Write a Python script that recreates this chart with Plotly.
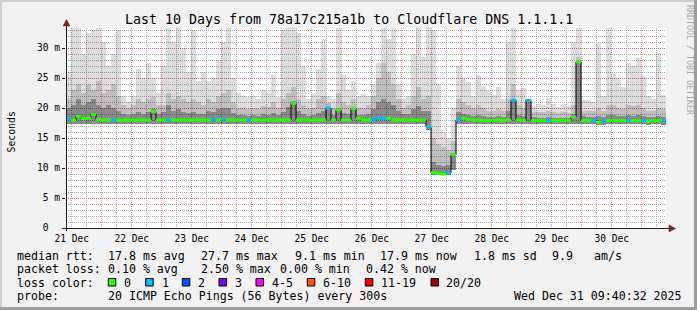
import plotly.graph_objects as go
from datetime import datetime, timedelta

# ---------------- data (2-hour bins) ----------------
START = datetime(2025, 12, 21, 9, 40, 32)
END = datetime(2025, 12, 31, 9, 40, 32)
BIN = timedelta(hours=2)

# top of the light smoke (max ping), ms
rtt_max = [
    26, 33.3, 33.3, 29, 32.5, 33, 33.3, 31, 27, 29, 33, 22,
    21, 22, 26.5, 25, 27.5, 25, 22.5, 27, 33.3, 31, 33.3, 30,
    26, 33, 24.5, 26, 24.5, 25, 28, 31, 33.3, 25, 22.5, 22,
    21.8, 22, 21.5, 23, 22.5, 25.5, 21.8, 33, 33.3, 33.3, 32.5, 27,
    21.5, 22.3, 26.5, 31.5, 22, 21.5, 33.3, 25.5, 23, 24.5, 22, 22.3,
    22, 24, 27.5, 33.3, 31.5, 33.3, 24, 21.5, 22, 29, 33.3, 28.5,
    33.3, 33, 24, 16, 15, 20, 27, 25, 24.4, 22, 25.5, 23.6,
    22.8, 22.2, 23.5, 21.5, 31, 33.3, 23, 23.3, 21.3, 20.2, 20.7, 20.5,
    21.7, 20.7, 20.2, 20.7, 20.3, 31, 33.3, 21.3, 21.3, 21, 30.8, 22,
    33.3, 25.6, 25, 23.5, 27.5, 27, 28.3, 25.3, 22, 21.5, 29.2, 22.2,
]
# top of the medium smoke
rtt_mid = [
    21.5, 23, 24, 22.5, 24, 23, 24.5, 22.5, 23, 24, 22, 20.5,
    20, 20.5, 21.5, 21, 21.5, 21.8, 20.5, 20.5, 22.5, 21.5, 22, 21.5,
    21, 21.5, 21, 20.5, 21.5, 21, 22, 22.5, 23, 21, 20, 20,
    19.8, 20, 19.8, 20.3, 20.2, 21, 20, 21.5, 22.5, 23.5, 21.5, 20.5,
    19.8, 20, 21.5, 22, 20.8, 20, 22.5, 21, 20.5, 21.5, 20, 20,
    20.5, 22, 25, 27.5, 26, 24, 21.5, 20, 20.5, 22, 23.5, 21.5,
    22, 15, 14, 13.5, 13, 14.5, 21.5, 21, 20.5, 20, 20.5, 20,
    19.5, 19.5, 19.8, 19.5, 21.5, 24, 20.5, 20, 21.5, 19.3, 19.3, 19.3,
    19.5, 19.3, 19.2, 19.3, 19.2, 20.5, 28.5, 19.5, 19.5, 19.5, 20, 19.5,
    20.5, 20.5, 20, 19.8, 20.5, 20.3, 20.5, 20, 19.5, 19.5, 20, 19.8,
]
# top of the dark smoke
rtt_dark = [
    20, 20.5, 21.5, 20.5, 21, 21.5, 20.5, 20, 20.5, 20, 19.5, 19,
    18.8, 19, 19.3, 19, 19.3, 19.8, 19, 19.3, 20.5, 19.5, 19.8, 19.3,
    19.2, 19.3, 19, 19, 19.5, 19.3, 19.8, 20, 20, 19.2, 18.8, 18.8,
    18.7, 18.8, 18.7, 19, 18.9, 19.2, 18.8, 19.3, 20.2, 21.2, 19.5, 19,
    18.7, 18.8, 19.2, 19.5, 20.2, 18.8, 20, 19.2, 19, 20.2, 18.8, 18.8,
    19, 19.8, 21, 21.5, 21, 20.5, 19.5, 19, 19, 19.8, 20.3, 19.5,
    19.5, 11, 10.5, 10.3, 10.5, 12.5, 19.3, 19, 18.8, 18.7, 18.8, 18.6,
    18.5, 18.5, 18.6, 18.5, 19.5, 21.5, 18.8, 18.7, 21.3, 18.5, 18.4, 18.4,
    18.5, 18.4, 18.4, 18.4, 18.4, 19, 27.7, 18.6, 18.5, 18.5, 18.6, 18.5,
    18.8, 18.8, 18.7, 18.6, 18.8, 18.7, 18.8, 18.7, 18.5, 18.5, 18.6, 18.5,
]
# bottom of the smoke (min ping)
rtt_min = [
    17.4, 17.4, 17.4, 17.4, 17.4, 17.4, 17.4, 17.4, 17.4, 17.3, 17.4, 17.4,
    17.4, 17.4, 17.4, 17.4, 17.4, 17.4, 17.4, 17.4, 17.3, 17.4, 17.4, 17.4,
    17.4, 17.4, 17.4, 17.4, 17.4, 17.4, 17.4, 17.4, 17.4, 17.4, 17.4, 17.4,
    17.3, 17.4, 17.4, 17.4, 17.4, 17.4, 17.4, 17.4, 17.4, 17.4, 17.4, 17.4,
    17.4, 17.4, 17.4, 17.4, 17.4, 17.4, 17.4, 17.4, 17.4, 17.4, 17.4, 17.4,
    17.4, 17.4, 17.4, 17.4, 17.4, 17.4, 17.4, 17.4, 17.4, 17.4, 17.4, 17.4,
    16.4, 8.8, 8.8, 8.8, 8.8, 9.6, 17.4, 17.4, 17.4, 17.4, 17.4, 17.3,
    17.3, 17.3, 17.4, 17.3, 17.4, 17.4, 17.4, 17.3, 17.4, 17.3, 17.3, 17.3,
    17.3, 17.3, 17.3, 17.3, 17.3, 17.4, 17.4, 17.3, 17.3, 17.3, 17.1, 17.2,
    17.3, 17.3, 17.3, 17.3, 17.3, 17.3, 17.3, 17.3, 17.2, 17.3, 17.3, 17.2,
]
rtt_median = [
    18.2, 18.0, 18.6, 18.2, 18.3, 18.9, 18.1, 18.0, 18.0, 17.9, 18.0, 18.0,
    18.0, 18.0, 18.0, 18.0, 18.0, 19.4, 18.0, 18.0, 17.9, 18.0, 18.0, 18.0,
    18.0, 18.0, 18.0, 18.0, 18.0, 18.1, 18.0, 18.2, 18.0, 18.0, 18.0, 18.0,
    17.9, 18.0, 18.0, 18.0, 18.0, 18.0, 18.0, 18.0, 18.0, 20.8, 18.0, 18.0,
    18.0, 18.0, 18.0, 18.0, 20.0, 18.0, 19.7, 18.0, 18.0, 19.9, 18.3, 18.0,
    18.0, 18.0, 18.3, 18.2, 18.3, 18.0, 18.0, 18.0, 18.0, 18.0, 18.0, 18.0,
    16.8, 9.2, 9.1, 9.0, 9.2, 12.2, 18.0, 18.3, 18.1, 18.0, 18.0, 17.9,
    17.9, 17.9, 18.0, 17.9, 18.0, 21.3, 18.0, 17.9, 21.3, 17.9, 17.9, 17.9,
    17.9, 17.9, 17.9, 17.9, 17.9, 18.5, 27.7, 17.9, 17.9, 17.9, 17.6, 17.8,
    17.9, 17.9, 17.9, 17.9, 17.9, 17.9, 17.9, 17.9, 17.8, 17.9, 17.9, 17.8,
]
# lost pings (of 20) per bin
loss_count = [
    1, 0, 0, 0, 0, 0, 0, 0, 0, 1, 0, 0,
    0, 0, 0, 0, 0, 0, 0, 0, 1, 0, 0, 0,
    0, 0, 0, 0, 0, 1, 0, 1, 0, 0, 0, 0,
    1, 0, 0, 0, 0, 0, 0, 0, 0, 0, 0, 0,
    0, 0, 0, 0, 1, 0, 0, 0, 0, 0, 0, 0,
    0, 1, 1, 1, 0, 0, 0, 0, 0, 0, 0, 0,
    1, 0, 0, 0, 1, 0, 1, 0, 0, 0, 0, 0,
    0, 0, 0, 0, 0, 1, 0, 0, 1, 0, 0, 0,
    1, 0, 0, 0, 0, 0, 0, 0, 0, 1, 0, 1,
    0, 0, 0, 0, 1, 0, 0, 1, 0, 0, 0, 1,
]

loss_labels = ["0", "1", "2", "3", "4-5", "6-10", "11-19", "20/20"]
loss_colors = ["#26ff00", "#00b8ff", "#0059ff", "#7e00ff", "#ff00ff", "#ff5500", "#ff0000", "#a10000"]

y_tick_vals = [0, 5, 10, 15, 20, 25, 30]
y_tick_text = ["0\u00a0\u00a0", "5 m", "10 m", "15 m", "20 m", "25 m", "30 m"]

title_text = "Last 10 Days from 78a17c215a1b to Cloudflare DNS 1.1.1.1"
legend_rows = [
    [(16, "median rtt:"), (107.3, "17.8 ms avg"), (200, "27.7 ms max"), (294, "9.1 ms min"),
     (379.3, "17.9 ms now"), (472.7, "1.8 ms sd"), (551, "9.9"), (593.3, "am/s")],
    [(16, "packet loss:"), (107.3, "0.10 % avg"), (200, "2.50 % max"), (279.3, "0.00 % min"),
     (365, "0.42 % now")],
    [(16, "loss color:")],
    [(16, "probe:"), (107.3, "20 ICMP Echo Pings (56 Bytes) every 300s"),
     (513.3, "Wed Dec 31 09:40:32 2025")],
]

n = len(rtt_median)
assert all(len(a) == n for a in [rtt_max, rtt_mid, rtt_dark, rtt_min, loss_count])

# ---------------- figure ----------------
PL, PT, PW, PH = 66, 28, 600, 200
W, H = 697, 310
def fx(px): return (px - PL) / PW
def fy(py): return (PT + PH - py) / PH

FONT = "DejaVu Sans Mono"
centers = [START + BIN * k + BIN / 2 for k in range(n)]
bw = BIN.total_seconds() * 1000

fig = go.Figure()
layers = [
    (rtt_min, rtt_dark, "rgba(0,0,0,0.46)"),
    (rtt_dark, rtt_mid, "rgba(0,0,0,0.25)"),
    (rtt_mid, rtt_max, "rgba(0,0,0,0.135)"),
]
for lo, hi, col in layers:
    fig.add_trace(go.Bar(
        x=centers, base=lo, y=[max(h - l, 0) for l, h in zip(lo, hi)],
        width=bw, marker=dict(color=col, line=dict(width=0)), hoverinfo="skip"))

# black median line (stepped)
edges = [START + BIN * k for k in range(n + 1)]
fig.add_trace(go.Scatter(x=edges, y=rtt_median + [rtt_median[-1]], mode="lines",
                         line=dict(color="#000000", width=1, shape="hv"), hoverinfo="skip"))

# loss-coloured median segments
def loss_class(c):
    if c <= 3: return c
    if c <= 5: return 4
    if c <= 10: return 5
    if c <= 19: return 6
    return 7
segs = {}
for k in range(n):
    cls = loss_class(loss_count[k])
    xs, ys = segs.setdefault(cls, ([], []))
    xs += [edges[k], edges[k + 1], None]
    ys += [rtt_median[k], rtt_median[k], None]
for cls, (xs, ys) in segs.items():
    fig.add_trace(go.Scatter(x=xs, y=ys, mode="lines", connectgaps=False,
                             line=dict(color=loss_colors[cls], width=3), hoverinfo="skip"))

GRID = "rgba(143,143,143,0.75)"
MGRID = "rgba(222,79,79,0.6)"
DASH = "1px,1px"

fig.update_layout(
    width=W, height=H, margin=dict(l=PL, r=W - PL - PW, t=PT, b=H - PT - PH, pad=0),
    paper_bgcolor="#f2f2f2", plot_bgcolor="#ffffff",
    barmode="overlay", bargap=0, showlegend=False,
    font=dict(family=FONT, size=9.6, color="#000000"),
    xaxis=dict(type="date", range=[START, END], dtick=86400000, tick0="2025-12-22",
               tickformat="%d %b", ticklabelmode="period", showgrid=True,
               gridcolor=MGRID, griddash=DASH, gridwidth=1, ticks="", showline=False,
               zeroline=False, tickfont=dict(family=FONT, size=9.6), ticklabelstandoff=3,
               minor=dict(dtick=21600000, tick0="2025-12-22", showgrid=True,
                          gridcolor=GRID, griddash=DASH, gridwidth=1, ticks="")),
    yaxis=dict(range=[0, 33.333], tickmode="array", tickvals=y_tick_vals, ticktext=y_tick_text,
               showgrid=True, gridcolor=MGRID, griddash=DASH, gridwidth=1,
               zeroline=False, showline=False, ticks="outside", ticklen=3,
               tickcolor="#1f1f1f", tickfont=dict(family=FONT, size=9.6),
               minor=dict(dtick=1, tick0=0, showgrid=True, gridcolor=GRID,
                          griddash=DASH, gridwidth=1, ticks="")),
)

shapes = []
# frame shading
shapes.append(dict(type="rect", xref="paper", yref="paper", x0=fx(0), x1=fx(W), y0=fy(0), y1=fy(2),
                   fillcolor="#cfcfcf", line=dict(width=0), layer="above"))
shapes.append(dict(type="rect", xref="paper", yref="paper", x0=fx(0), x1=fx(2), y0=fy(0), y1=fy(H),
                   fillcolor="#cfcfcf", line=dict(width=0), layer="above"))
shapes.append(dict(type="rect", xref="paper", yref="paper", x0=fx(0), x1=fx(W), y0=fy(H - 3), y1=fy(H),
                   fillcolor="#9e9e9e", line=dict(width=0), layer="above"))
shapes.append(dict(type="rect", xref="paper", yref="paper", x0=fx(W - 3), x1=fx(W), y0=fy(0), y1=fy(H),
                   fillcolor="#9e9e9e", line=dict(width=0), layer="above"))
# axes with arrows
AX = "#1f1f1f"
ARROW = "#801f1f"
shapes.append(dict(type="line", xref="paper", yref="paper", x0=fx(66.5), x1=fx(66.5), y0=fy(231), y1=fy(24),
                   line=dict(color=AX, width=1), layer="above"))
shapes.append(dict(type="line", xref="paper", yref="paper", x0=fx(63), x1=fx(670), y0=fy(228.5), y1=fy(228.5),
                   line=dict(color=AX, width=1), layer="above"))
shapes.append(dict(type="path", xref="paper", yref="paper",
                   path=f"M {fx(63)},{fy(26)} L {fx(66.5)},{fy(19.5)} L {fx(70)},{fy(26)} Z",
                   fillcolor=ARROW, line=dict(color=ARROW, width=0.5), layer="above"))
shapes.append(dict(type="path", xref="paper", yref="paper",
                   path=f"M {fx(669)},{fy(225)} L {fx(675.5)},{fy(228.5)} L {fx(669)},{fy(232)} Z",
                   fillcolor=ARROW, line=dict(color=ARROW, width=0.5), layer="above"))

ann = []
ann.append(dict(text=title_text, xref="paper", yref="paper", x=fx(349), y=fy(19),
                xanchor="center", yanchor="middle", showarrow=False,
                font=dict(family=FONT, size=13.3, color="#000")))
ann.append(dict(text="Seconds", xref="paper", yref="paper", x=fx(10.5), y=fy(132),
                xanchor="center", yanchor="middle", textangle=-90, showarrow=False,
                font=dict(family=FONT, size=9.8, color="#000")))
ann.append(dict(text="RRDTOOL / TOBI OETIKER", xref="paper", yref="paper", x=fx(690), y=fy(60),
                xanchor="center", yanchor="middle", textangle=90, showarrow=False,
                font=dict(family=FONT, size=8.3, color="#a8a8a8")))

row_y = [255.5, 269, 282.5, 296]
for ry, row in zip(row_y, legend_rows):
    for px, txt in row:
        ann.append(dict(text=txt, xref="paper", yref="paper", x=fx(px), y=fy(ry),
                        xanchor="left", yanchor="middle", showarrow=False, borderpad=0,
                        font=dict(family=FONT, size=11.6, color="#000")))

box_x = [108.3, 145.7, 182.3, 219, 256, 307.3, 365.3, 431]
lab_x = [123, 160.7, 197.3, 234, 270.7, 322, 380, 445]
for bx, lx, lab, col in zip(box_x, lab_x, loss_labels, loss_colors):
    shapes.append(dict(type="rect", xref="paper", yref="paper", x0=fx(bx), x1=fx(bx + 7.5),
                       y0=fy(286), y1=fy(278.5), fillcolor=col,
                       line=dict(color="#000000", width=1), layer="above"))
    ann.append(dict(text=lab, xref="paper", yref="paper", x=fx(lx), y=fy(282.5),
                    xanchor="left", yanchor="middle", showarrow=False, borderpad=0,
                    font=dict(family=FONT, size=11.6, color="#000")))

fig.update_layout(shapes=shapes, annotations=ann)
fig.write_html("out.html")
